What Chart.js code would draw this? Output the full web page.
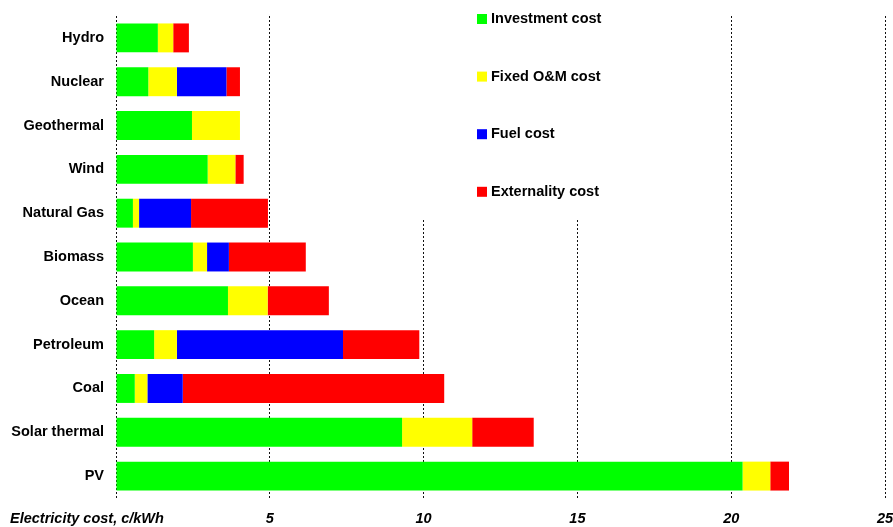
<!DOCTYPE html>
<html>
<head>
<meta charset="utf-8">
<script src="https://cdn.jsdelivr.net/npm/chart.js@4/dist/chart.umd.min.js"></script>
<style>
  html, body { margin: 0; padding: 0; background: #fff; }
  #wrap { width: 893px; height: 527px; }
</style>
</head>
<body>
<div id="wrap"><canvas id="costChart"></canvas></div>
<script>
// electricity cost by source, c/kWh
var categories = ['Hydro', 'Nuclear', 'Geothermal', 'Wind', 'Natural Gas', 'Biomass', 'Ocean', 'Petroleum', 'Coal', 'Solar thermal', 'PV'];
var investment = [1.36, 1.05, 2.47, 2.98, 0.55, 2.50, 3.64, 1.24, 0.61, 9.30, 20.37];
var fixedOM = [0.50, 0.93, 1.56, 0.90, 0.20, 0.46, 1.29, 0.74, 0.41, 2.28, 0.90];
var fuel = [0, 1.61, 0, 0, 1.69, 0.71, 0, 5.40, 1.15, 0, 0];
var externality = [0.51, 0.44, 0, 0.27, 2.50, 2.50, 1.99, 2.48, 8.50, 2.00, 0.61];
var seriesNames = ['Investment cost', 'Fixed O&M cost', 'Fuel cost', 'Externality cost'];
var axisTitle = 'Electricity cost, c/kWh';
var xMax = 25;
var xStep = 5;

const FONT = '"Liberation Sans", Arial, sans-serif';

// legend box drawn over the plot with a white fill (hides grid lines behind it)
const boxLegend = {
    id: 'boxLegend',
    beforeDatasetsDraw(chart) {
        const ctx = chart.ctx;
        const xs = chart.scales.x;
        ctx.save();
        ctx.fillStyle = '#fff';
        const l = xs.getPixelForValue(9.5);
        ctx.fillRect(l, 0, xs.getPixelForValue(16) - l, 219);
        ctx.font = 'bold 14.5px ' + FONT;
        ctx.textBaseline = 'middle';
        ctx.textAlign = 'left';
        chart.data.datasets.forEach((ds, i) => {
            const y = 19 + i * 57.6;
            ctx.fillStyle = ds.backgroundColor;
            ctx.fillRect(477, y - 5, 10, 10);
            ctx.fillStyle = '#000';
            ctx.fillText(ds.label, 491, y);
        });
        ctx.restore();
    }
};

// axis title sits on the tick label row, left of the plot
const axisLabel = {
    id: 'axisLabel',
    afterDraw(chart) {
        const ctx = chart.ctx;
        const area = chart.chartArea;
        ctx.save();
        ctx.font = 'italic bold 14.5px ' + FONT;
        ctx.fillStyle = '#000';
        ctx.textBaseline = 'middle';
        ctx.textAlign = 'left';
        ctx.fillText(axisTitle, 10, area.bottom + 21);
        ctx.restore();
    }
};

const ctx = document.getElementById('costChart').getContext('2d');
const chart = new Chart(ctx, {
    type: 'bar',
    data: {
        labels: categories,
        datasets: [
            { label: seriesNames[0], data: investment, backgroundColor: '#00ff00' },
            { label: seriesNames[1], data: fixedOM, backgroundColor: '#ffff00' },
            { label: seriesNames[2], data: fuel, backgroundColor: '#0000ff' },
            { label: seriesNames[3], data: externality, backgroundColor: '#ff0000' }
        ]
    },
    options: {
        indexAxis: 'y',
        responsive: true,
        maintainAspectRatio: false,
        animation: false,
        datasets: {
            bar: { categoryPercentage: 0.66, barPercentage: 1, borderWidth: 0 }
        },
        layout: { padding: { top: 16, right: 8, bottom: 0, left: 0 } },
        plugins: {
            legend: { display: false },
            tooltip: { enabled: false }
        },
        scales: {
            x: {
                stacked: true,
                min: 0,
                max: xMax,
                grid: { color: '#111', lineWidth: 1, drawTicks: false },
                border: { display: false, dash: [2, 2] },
                afterFit: s => { s.height = 29; s.paddingLeft = 0; s.paddingRight = 0; },
                ticks: {
                    stepSize: xStep,
                    padding: 12,
                    color: '#000',
                    font: { family: FONT, size: 14.5, weight: 'bold', style: 'italic' },
                    callback: v => v === 0 ? '' : v
                }
            },
            y: {
                stacked: true,
                grid: { display: false, drawTicks: false },
                border: { display: false },
                afterFit: s => { s.width = 116; s.paddingTop = 0; s.paddingBottom = 0; },
                ticks: {
                    padding: 12,
                    color: '#000',
                    font: { family: FONT, size: 14.5, weight: 'bold' }
                }
            }
        }
    },
    plugins: [boxLegend, axisLabel]
});
</script>
</body>
</html>
